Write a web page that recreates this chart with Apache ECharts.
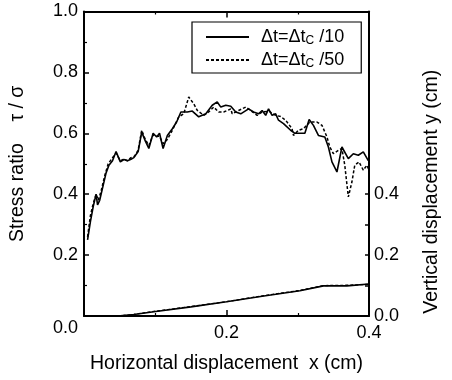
<!DOCTYPE html>
<html>
<head>
<meta charset="utf-8">
<script src="https://cdn.jsdelivr.net/npm/echarts@6/dist/echarts.min.js"></script>
<style>html,body{margin:0;padding:0;background:#fff}#c{width:452px;height:380px}</style>
</head>
<body>
<div id="c"></div>
<script>
// Stress ratio, dt = dtc/10 (solid)
var solidX = [0.005,0.009,0.013,0.017,0.019,0.022,0.027,0.031,0.035,0.040,0.045,0.051,0.056,0.061,0.066,0.070,0.076,0.081,0.086,0.091,0.097,0.102,0.106,0.111,0.117,0.124,0.130,0.136,0.145,0.152,0.161,0.171,0.180,0.187,0.192,0.199,0.206,0.213,0.220,0.231,0.238,0.245,0.250,0.255,0.259,0.264,0.269,0.273,0.280,0.290,0.296,0.303,0.310,0.316,0.322,0.329,0.338,0.343,0.348,0.355,0.362,0.371,0.378,0.385,0.392,0.399];
var solidY = [0.25,0.31,0.36,0.40,0.365,0.38,0.43,0.47,0.495,0.51,0.54,0.506,0.514,0.51,0.515,0.52,0.54,0.604,0.575,0.55,0.60,0.588,0.60,0.55,0.593,0.615,0.637,0.67,0.67,0.673,0.654,0.664,0.692,0.703,0.686,0.692,0.689,0.67,0.664,0.68,0.67,0.664,0.675,0.659,0.68,0.659,0.664,0.643,0.632,0.61,0.60,0.60,0.60,0.645,0.626,0.593,0.588,0.555,0.506,0.473,0.555,0.517,0.533,0.528,0.539,0.51];
// Stress ratio, dt = dtc/50 (dotted)
var dottedX = [0.005,0.009,0.013,0.017,0.020,0.024,0.029,0.034,0.040,0.045,0.051,0.056,0.061,0.066,0.071,0.076,0.081,0.086,0.091,0.097,0.102,0.106,0.111,0.117,0.124,0.133,0.140,0.147,0.154,0.159,0.168,0.175,0.182,0.189,0.196,0.206,0.208,0.217,0.227,0.234,0.243,0.250,0.260,0.269,0.276,0.283,0.292,0.294,0.301,0.308,0.317,0.327,0.334,0.341,0.345,0.350,0.357,0.362,0.366,0.371,0.376,0.380,0.386,0.392,0.397,0.400];
var dottedY = [0.26,0.33,0.37,0.40,0.38,0.41,0.46,0.50,0.52,0.535,0.51,0.515,0.51,0.52,0.525,0.545,0.61,0.58,0.56,0.595,0.59,0.59,0.566,0.58,0.61,0.654,0.664,0.719,0.697,0.675,0.659,0.67,0.686,0.67,0.67,0.68,0.664,0.675,0.686,0.675,0.659,0.67,0.672,0.659,0.655,0.643,0.615,0.593,0.61,0.615,0.637,0.637,0.626,0.588,0.555,0.533,0.544,0.55,0.495,0.391,0.44,0.495,0.506,0.479,0.495,0.48];
// Vertical displacement y (cm)
var vSolidX = [0.005,0.047,0.070,0.098,0.150,0.200,0.250,0.303,0.336,0.369,0.400];
var vSolidY = [0.0,0.0,0.005,0.014,0.030,0.047,0.065,0.083,0.099,0.099,0.105];
var vDottedX = [0.005,0.047,0.070,0.098,0.150,0.200,0.250,0.303,0.336,0.369,0.400];
var vDottedY = [0.0,0.0,0.005,0.015,0.031,0.047,0.066,0.084,0.100,0.101,0.104];
var xTicks = [0, 0.2, 0.4];
var leftTicks = [0, 0.2, 0.4, 0.6, 0.8, 1.0];
var rightTicks = [0, 0.2, 0.4];
var seriesNames = ['Δt=Δtc /10', 'Δt=Δtc /50'];

function zip(a, b) { return a.map(function (v, i) { return [v, b[i]]; }); }
var FONT = '"Liberation Sans", Arial, sans-serif';
var chart = echarts.init(document.getElementById('c'), null, {renderer: 'canvas'});
var tickLbl = {color: '#000', fontSize: 18, fontFamily: FONT};
var tickStyle = {show: true, inside: true, length: 6, lineStyle: {color: '#000', width: 1.5}};
var minorStyle = {show: true, splitNumber: 2, length: 3, lineStyle: {color: '#000', width: 1.2}};
chart.setOption({
  animation: false,
  backgroundColor: '#fff',
  grid: {left: 83, right: 83, top: 11.5, bottom: 64},
  legend: {
    orient: 'vertical', left: 192, top: 22,
    data: seriesNames,
    itemWidth: 43, itemHeight: 14, itemGap: 4,
    padding: [6, 17, 3, 13],
    borderColor: '#000', borderWidth: 1.2,
    backgroundColor: '#fff',
    itemStyle: {opacity: 0},
    formatter: function (n) { return '{p|Δt=Δt}{s|C}{a| /' + n.split('/')[1] + '}'; },
    textStyle: {
      color: '#000', fontFamily: FONT,
      rich: {
        p: {fontSize: 18, lineHeight: 20, fontFamily: FONT, color: '#000', padding: [0, 0, 0, 7]},
        a: {fontSize: 18, lineHeight: 20, fontFamily: FONT, color: '#000'},
        s: {fontSize: 12, lineHeight: 12, verticalAlign: 'bottom', fontFamily: FONT, color: '#000'}
      }
    }
  },
  xAxis: [{
    type: 'value', min: 0, max: 0.4, interval: 0.2,
    name: 'Horizontal displacement  x (cm)', nameLocation: 'middle', nameGap: 38,
    nameTextStyle: {color: '#000', fontSize: 19.5, fontFamily: FONT},
    axisLine: {show: true, onZero: false, lineStyle: {color: '#000', width: 2}},
    axisTick: tickStyle, minorTick: minorStyle,
    splitLine: {show: false},
    axisLabel: Object.assign({margin: 8, customValues: xTicks, formatter: function (v) { return v === 0 ? '' : v.toFixed(1); }}, tickLbl)
  }, {
    type: 'value', min: 0, max: 0.4, interval: 0.2, position: 'top',
    axisLine: {show: true, onZero: false, lineStyle: {color: '#000', width: 2}},
    axisTick: tickStyle, minorTick: minorStyle,
    splitLine: {show: false}, axisLabel: {show: false}
  }],
  yAxis: [{
    type: 'value', min: 0, max: 1, interval: 0.2, position: 'left',
    name: 'Stress ratio    τ / σ', nameLocation: 'middle', nameGap: 56,
    nameTextStyle: {color: '#000', fontSize: 19.5, fontFamily: FONT},
    axisLine: {show: true, onZero: false, lineStyle: {color: '#000', width: 2}},
    axisTick: {show: true, inside: true, length: 5, lineStyle: {color: '#000', width: 1.5}},
    minorTick: minorStyle,
    splitLine: {show: false},
    axisLabel: Object.assign({
      margin: 6, customValues: leftTicks,
      formatter: function (v) { return v === 0 ? '{z|0.0}' : v.toFixed(1); },
      rich: {z: {fontSize: 18, fontFamily: FONT, color: '#000', padding: [24, 0, 0, 0]}}
    }, tickLbl)
  }, {
    type: 'value', min: 0, max: 1, interval: 0.2, position: 'right',
    name: 'Vertical displacement y (cm)', nameLocation: 'middle', nameGap: 53,
    nameTextStyle: {color: '#000', fontSize: 19.5, fontFamily: FONT, padding: [0, 56, 0, 0]},
    axisLine: {show: true, onZero: false, lineStyle: {color: '#000', width: 2}},
    axisTick: {show: true, inside: true, length: 4, customValues: [0, 0.1, 0.2, 0.3, 0.4], lineStyle: {color: '#000', width: 1.5}},
    splitLine: {show: false},
    axisLabel: Object.assign({margin: 5, customValues: rightTicks, formatter: function (v) { return v.toFixed(1); }}, tickLbl)
  }],
  series: [{
    name: seriesNames[0], type: 'line', xAxisIndex: 0, yAxisIndex: 0,
    data: zip(solidX, solidY), symbol: 'none', z: 3,
    lineStyle: {color: '#000', width: 1.6}, itemStyle: {color: '#000'}
  }, {
    name: seriesNames[1], type: 'line', xAxisIndex: 0, yAxisIndex: 0,
    data: zip(dottedX, dottedY), symbol: 'none', z: 2,
    lineStyle: {color: '#000', width: 1.5, type: [3, 2]}, itemStyle: {color: '#000'}
  }, {
    name: 'v10', type: 'line', xAxisIndex: 0, yAxisIndex: 1,
    data: zip(vSolidX, vSolidY), symbol: 'none', z: 3,
    lineStyle: {color: '#000', width: 1.6}
  }, {
    name: 'v50', type: 'line', xAxisIndex: 0, yAxisIndex: 1,
    data: zip(vDottedX, vDottedY), symbol: 'none', z: 2,
    lineStyle: {color: '#000', width: 1.3, type: [3, 2]}
  }]
});
</script>
</body>
</html>
